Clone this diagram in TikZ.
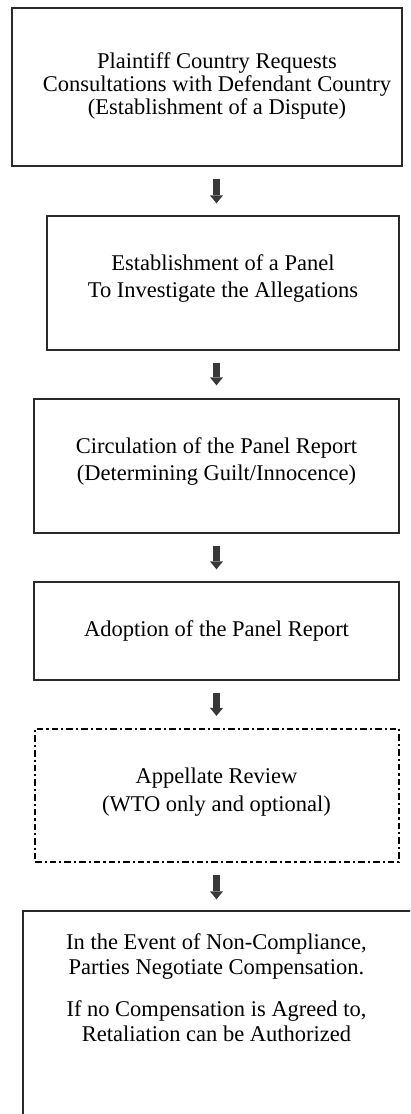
\documentclass[tikz,border=0pt]{standalone}
\usepackage{fontspec}
\setmainfont{Liberation Serif}
\usetikzlibrary{arrows.meta}
\definecolor{edgegray}{HTML}{2A2A2A}
\definecolor{arrowgray}{HTML}{383838}
\begin{document}
\begin{tikzpicture}[x=1pt,y=-1pt,
  stepbox/.style={draw=edgegray,line width=1.3pt,inner sep=0pt},
  optbox/.style={draw=black,line width=2.2pt,inner sep=0pt,dash pattern=on 6.5pt off 3pt on 2.2pt off 3pt},
  boxtext/.style={align=center,text=black,inner sep=0pt},
  flow/.style={draw=arrowgray,line width=7pt,-{Triangle[width=13pt,length=8pt,line width=0pt]}}]
\useasboundingbox (0,0) rectangle (410,1114);
\clip (0,0) rectangle (410,1114);
\fill[white] (0,0) rectangle (410,1114);
\coordinate (col) at (216.5,0);
% boxes
\node[stepbox,minimum width=390pt,minimum height=158pt] (b1) at (207,87) {};
\node[stepbox,minimum width=352pt,minimum height=134pt] (b2) at (223,283) {};
\node[stepbox,minimum width=365pt,minimum height=134pt] (b3) at (216.5,466) {};
\node[stepbox,minimum width=365pt,minimum height=98pt] (b4) at (216.5,631) {};
\node[optbox,minimum width=364pt,minimum height=133pt] (b5) at (217,795.5) {};
\node[stepbox,minimum width=417pt,minimum height=229pt] (b6) at (231.5,1025.5) {};
% texts
\node[boxtext,font=\fontsize{22.5pt}{23pt}\selectfont] (t1) at (217,85.5)
  {Plaintiff Country Requests\\Consultations with Defendant Country\\(Establishment of a Dispute)};
\node[boxtext,font=\fontsize{22.5pt}{27.5pt}\selectfont] (t2) at (223,278.5)
  {Establishment of a Panel\\To Investigate the Allegations};
\node[boxtext,font=\fontsize{22.5pt}{27pt}\selectfont] (t3) at (216.5,461.5)
  {Circulation of the Panel Report\\(Determining Guilt/Innocence)};
\node[boxtext,font=\fontsize{22.5pt}{27pt}\selectfont] (t4) at (216.5,631)
  {Adoption of the Panel Report};
\node[boxtext,font=\fontsize{22.5pt}{28pt}\selectfont] (t5) at (216.5,792)
  {Appellate Review\\(WTO only and optional)};
\node[boxtext,font=\fontsize{22.5pt}{25pt}\selectfont] (t6) at (216.5,987.5)
  {In the Event of Non-Compliance,\\Parties Negotiate Compensation.\\[17pt]If no Compensation is Agreed to,\\Retaliation can be Authorized};
% arrows
\draw[flow] ([yshift=-12pt]b1.south -| col) -- ([yshift=12pt]b2.north -| col);
\draw[flow] ([yshift=-12pt]b2.south -| col) -- ([yshift=13pt]b3.north -| col);
\draw[flow] ([yshift=-12pt]b3.south -| col) -- ([yshift=12pt]b4.north -| col);
\draw[flow] ([yshift=-12pt]b4.south -| col) -- ([yshift=12pt]b5.north -| col);
\draw[flow] ([yshift=-12pt]b5.south -| col) -- ([yshift=11pt]b6.north -| col);
\end{tikzpicture}
\end{document}
